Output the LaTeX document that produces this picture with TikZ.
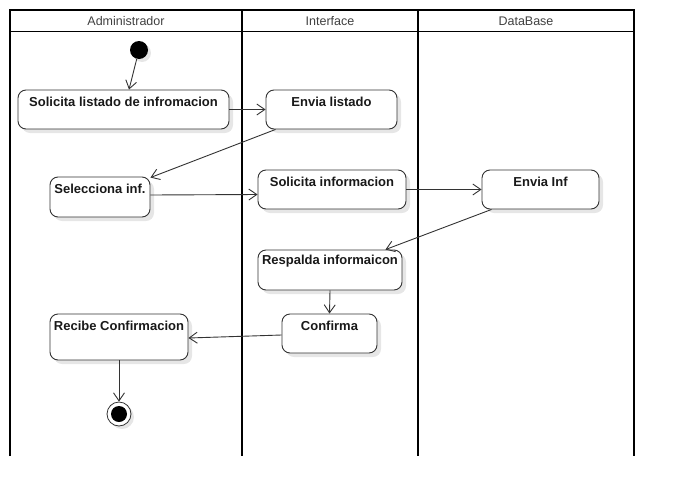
\documentclass[tikz,border=0pt]{standalone}
\usepackage{fontspec}
\setmainfont{Liberation Sans}
\usetikzlibrary{arrows.meta,shadows}
\definecolor{edge}{HTML}{333333}
\definecolor{shade}{HTML}{E6E6E6}
\tikzset{
  lane/.style={line width=2pt, black},
  hdr/.style={font=\fontsize{12.5}{14}\selectfont, text=black!75, inner sep=0pt},
  act/.style={draw=edge, line width=0.9pt, fill=white, rounded corners=8pt, inner sep=0pt,
    drop shadow={shadow xshift=4pt, shadow yshift=-4pt, fill=shade, opacity=1}},
  lbl/.style={font=\bfseries\fontsize{13}{15}\selectfont, text=black!90, inner sep=0pt},
  flow/.style={draw=edge, line width=0.9pt, -{Straight Barb[length=8pt,width=11pt]}},
}
\begin{document}
\begin{tikzpicture}[x=1pt,y=-1pt]
\useasboundingbox (0,0) rectangle (674,498);
% swimlanes
\draw[lane] (10,456) -- (10,10) -- (634,10) -- (634,456);
\draw[lane] (242,10) -- (242,456);
\draw[lane] (418,10) -- (418,456);
\draw[line width=1pt] (10,31) -- (634,31);
\node[hdr] (h1) at (126,21) {Administrador};
\node[hdr] (h2) at (330,21) {Interface};
\node[hdr] (h3) at (526,21) {DataBase};
% start
\node[circle, fill=black, minimum size=18pt, inner sep=0pt,
  drop shadow={shadow xshift=3pt, shadow yshift=-3pt, fill=shade, opacity=1}] (start) at (139,50) {};
% activities
\node[act, minimum width=211pt, minimum height=39pt] (sl) at (123.5,109.5) {};
\node[lbl] (slt) at ([yshift=-12pt]sl.north) {Solicita listado de infromacion};
\node[act, minimum width=131pt, minimum height=39pt] (el) at (331.5,109.5) {};
\node[lbl] (elt) at ([yshift=-12pt]el.north) {Envia listado};
\node[act, minimum width=100pt, minimum height=40pt] (sel) at (100,197) {};
\node[lbl] (selt) at ([yshift=-12pt]sel.north) {Selecciona inf.};
\node[act, minimum width=148pt, minimum height=39pt] (si) at (332,189.5) {};
\node[lbl] (sit) at ([yshift=-12pt]si.north) {Solicita informacion};
\node[act, minimum width=117pt, minimum height=39pt] (ei) at (540.5,189.5) {};
\node[lbl] (eit) at ([yshift=-12pt]ei.north) {Envia Inf};
\node[act, minimum width=144pt, minimum height=40pt] (rsp) at (330,270) {};
\node[lbl] (rspt) at ([yshift=-12pt]rsp.north) {Respalda informaicon};
\node[act, minimum width=95pt, minimum height=39pt] (cf) at (329.5,333.5) {};
\node[lbl] (cft) at ([yshift=-12pt]cf.north) {Confirma};
\node[act, minimum width=138pt, minimum height=46pt] (rc) at (119,337) {};
\node[lbl] (rct) at ([yshift=-12pt]rc.north) {Recibe Confirmacion};
% end
\node[circle, draw=edge, line width=0.8pt, fill=white, minimum size=24pt, inner sep=0pt,
  drop shadow={shadow xshift=3pt, shadow yshift=-3pt, fill=shade, opacity=1}] (end) at (119,414) {};
\node[circle, fill=black, minimum size=16pt, inner sep=0pt] (endin) at (end) {};
% flows
\draw[flow] (start) -- ([xshift=5.5pt]sl.north);
\draw[flow] (sl.east) -- (el.west);
\draw[flow] ([xshift=10pt]el.south west) -- ([yshift=-1pt]sel.north east);
\draw[flow] ([yshift=2pt]sel.east) -- ([yshift=-5pt]si.west);
\draw[flow] (si.east) -- (ei.west);
\draw[flow] ([xshift=10pt]ei.south west) -- ([xshift=-17pt]rsp.north east);
\draw[flow] (rsp.south) -- (cf.north);
\draw[flow] ([yshift=-1.5pt]cf.west) -- ([yshift=-1pt]rc.east);
\draw[flow] (rc.south) -- (end.north);
\end{tikzpicture}
\end{document}
